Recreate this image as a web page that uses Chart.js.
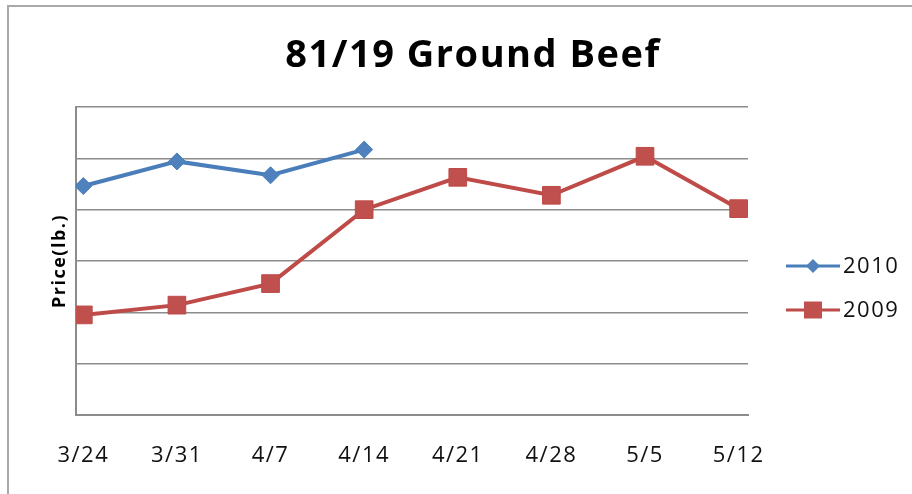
<!DOCTYPE html>
<html>
<head>
<meta charset="utf-8">
<script src="https://cdn.jsdelivr.net/npm/chart.js@4/dist/chart.umd.min.js"></script>
<style>
html,body{margin:0;padding:0;background:#fff;}
canvas{display:block;}
</style>
</head>
<body>
<canvas id="c" width="912" height="494"></canvas>
<script>
const categories = ["3/24","3/31","4/7","4/14","4/21","4/28","5/5","5/12"];
const series2010 = [4.46, 4.94, 4.67, 5.17];
const series2009 = [1.95, 2.14, 2.56, 4.00, 4.63, 4.28, 5.04, 4.02];
const seriesNames = ["2010","2009"];
const chartTitle = "81/19 Ground Beef";
const yTitle = "Price(lb.)";

const FONT = "'Open Sans', Lato, sans-serif";

const toPoints = arr => arr.map((v, i) => ({x: i, y: v}));

const frame = {
  id: 'frame',
  beforeDraw(chart) {
    const ctx = chart.ctx;
    ctx.save();
    ctx.fillStyle = '#fff';
    ctx.fillRect(0, 0, chart.width, chart.height);
    ctx.strokeStyle = '#a9a9a9';
    ctx.lineWidth = 2;
    ctx.strokeRect(8, 6, 2000, 2000);
    ctx.restore();
    if ('letterSpacing' in ctx) ctx.letterSpacing = '1.5px';
  }
};

const customLegend = {
  id: 'customLegend',
  afterDraw(chart) {
    const ctx = chart.ctx;
    const ys = [266, 310];
    ctx.save();
    chart.data.datasets.forEach((ds, i) => {
      const y = ys[i];
      ctx.strokeStyle = ds.borderColor;
      ctx.lineWidth = 3;
      ctx.beginPath();
      ctx.moveTo(786, y);
      ctx.lineTo(840, y);
      ctx.stroke();
      ctx.fillStyle = ds.pointBackgroundColor;
      ctx.beginPath();
      if (ds.pointStyle === 'rectRot') {
        const r = 7;
        ctx.moveTo(813, y - r); ctx.lineTo(813 + r, y); ctx.lineTo(813, y + r); ctx.lineTo(813 - r, y);
        ctx.closePath();
      } else {
        ctx.rect(813 - 9, y - 8.5, 18, 17);
      }
      ctx.fill();
      ctx.fillStyle = '#111';
      ctx.font = "22px " + FONT;
      ctx.textBaseline = 'middle';
      ctx.textAlign = 'left';
      ctx.fillText(ds.label, 843, y + 1);
    });
    ctx.restore();
  }
};

new Chart(document.getElementById('c'), {
  type: 'line',
  data: {
    datasets: [
      {
        label: seriesNames[0],
        data: toPoints(series2010),
        borderColor: '#4A7EBB',
        backgroundColor: '#4F81BD',
        borderWidth: 4,
        pointStyle: 'rectRot',
        pointRadius: 8.5,
        pointBackgroundColor: '#4F81BD',
        pointBorderColor: '#4A7EBB',
        pointBorderWidth: 1,
        tension: 0
      },
      {
        label: seriesNames[1],
        data: toPoints(series2009),
        borderColor: '#BE4B48',
        backgroundColor: '#C0504D',
        borderWidth: 4,
        pointStyle: 'rect',
        pointRadius: 12.5,
        pointBackgroundColor: '#C0504D',
        pointBorderColor: '#BE4B48',
        pointBorderWidth: 1,
        tension: 0
      }
    ]
  },
  options: {
    responsive: false,
    animation: false,
    events: [],
    layout: { padding: { left: 44, right: 10, top: 20, bottom: 26 } },
    plugins: {
      legend: { display: false },
      tooltip: { enabled: false },
      title: {
        display: true,
        text: chartTitle,
        color: '#000',
        font: { family: FONT, size: 38, weight: 'bold', lineHeight: 1.2 },
        padding: { top: 13, bottom: 28.4 }
      }
    },
    scales: {
      x: {
        type: 'linear',
        min: -0.078,
        max: 7.1,
        afterBuildTicks(scale) { scale.ticks = categories.map((_, i) => ({value: i})); },
        afterFit(scale) { scale.height = 53; },
        ticks: {
          callback: v => categories[v],
          color: '#111',
          font: { family: FONT, size: 22 },
          padding: 28,
          maxRotation: 0,
          autoSkip: false
        },
        grid: { display: false, drawTicks: false },
        border: { display: true, color: '#8c8c8c', width: 2 }
      },
      y: {
        type: 'linear',
        position: 'left',
        min: 0,
        max: 6,
        ticks: { display: false, stepSize: 1 },
        afterFit(scale) { scale.width = 32; },
        title: {
          display: true,
          text: yTitle,
          color: '#000',
          font: { family: FONT, size: 18, weight: 'bold', lineHeight: 1.2 },
          padding: { top: 5, bottom: 0 }
        },
        grid: { color: '#8c8c8c', lineWidth: 1.5, drawTicks: false },
        border: { display: true, color: '#8c8c8c', width: 2 }
      },
      yR: {
        type: 'linear',
        position: 'right',
        display: true,
        min: 0,
        max: 6,
        ticks: { display: false },
        grid: { display: false, drawTicks: false },
        border: { display: false },
        afterFit(scale) { scale.width = 154; }
      }
    }
  },
  plugins: [frame, customLegend]
});
</script>
</body>
</html>
